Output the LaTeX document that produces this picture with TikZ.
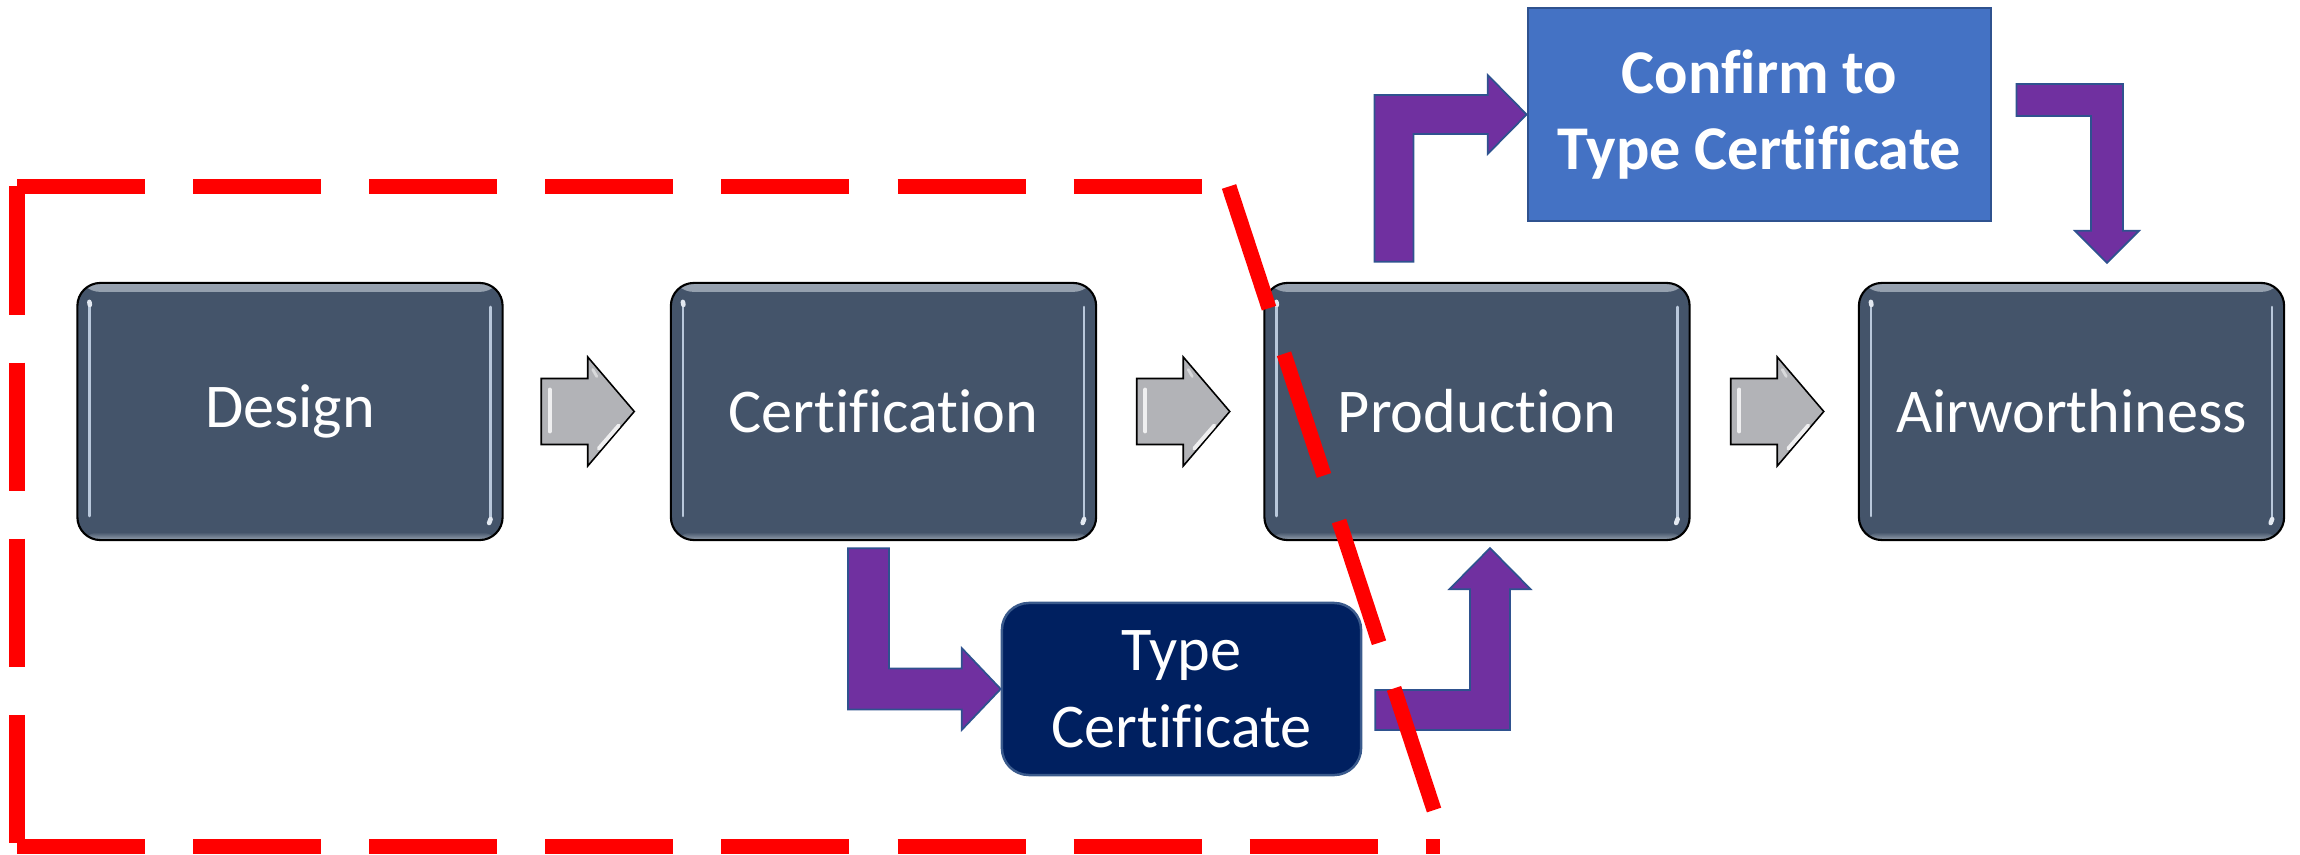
\documentclass[tikz,border=0pt]{standalone}
\usepackage{fontspec}
\setmainfont{Carlito}[Ligatures={NoCommon}]
\usetikzlibrary{calc}

\definecolor{slate}{HTML}{44546A}
\definecolor{slaterim}{HTML}{97A2B0}
\definecolor{gloss}{HTML}{B9C8DB}
\definecolor{navy}{HTML}{002060}
\definecolor{tcedge}{HTML}{3A5A8C}
\definecolor{skyblue}{HTML}{4472C4}
\definecolor{blueedge}{HTML}{2F528F}
\definecolor{arrowpurple}{HTML}{7030A0}
\definecolor{chevgray}{RGB}{178,179,183}
\definecolor{dashred}{HTML}{FF0000}

\newcommand{\labelfont}{\fontsize{17.7pt}{21.8pt}\selectfont}

\tikzset{
  stage/.style={
    rectangle, rounded corners=0.23cm, fill=slate, draw=black, line width=0.6pt,
    minimum width=4.25cm, minimum height=2.57cm, inner sep=0pt,
    text=white, font=\labelfont,
    path picture={
      % bevel rims at top and bottom
      \shade[top color=slaterim, bottom color=slate]
        (path picture bounding box.north west) rectangle
        ([yshift=-0.09cm]path picture bounding box.north east);
      \shade[bottom color=slaterim, top color=slate]
        ([yshift=0.08cm]path picture bounding box.south west) rectangle
        (path picture bounding box.south east);
      % glossy side highlights
      \draw[gloss, line width=0.7pt, line cap=round]
        ([xshift=0.12cm,yshift=-0.18cm]path picture bounding box.north west) --
        ([xshift=0.12cm,yshift=0.24cm]path picture bounding box.south west);
      \draw[gloss, line width=0.7pt, line cap=round]
        ([xshift=-0.12cm,yshift=-0.24cm]path picture bounding box.north east) --
        ([xshift=-0.12cm,yshift=0.2cm]path picture bounding box.south east);
      \draw[gloss!40!white, line width=1.3pt, line cap=round]
        ([xshift=0.12cm,yshift=-0.19cm]path picture bounding box.north west) --
        ([xshift=0.125cm,yshift=-0.22cm]path picture bounding box.north west);
      \draw[gloss!40!white, line width=1.3pt, line cap=round]
        ([xshift=-0.12cm,yshift=0.21cm]path picture bounding box.south east) --
        ([xshift=-0.135cm,yshift=0.17cm]path picture bounding box.south east);
    }
  },
  typecert/.style={
    rectangle, rounded corners=0.27cm, fill=navy, draw=tcedge, line width=0.7pt,
    minimum width=3.59cm, minimum height=1.72cm, inner sep=0pt,
    text=white, font=\labelfont, align=center
  },
  conform/.style={
    rectangle, fill=skyblue, draw=blueedge, line width=0.7pt,
    minimum width=4.63cm, minimum height=2.13cm, inner sep=0pt,
    text=white, font=\labelfont\bfseries, align=center
  },
  elbow/.style={fill=arrowpurple, draw=blueedge, line width=0.5pt, line join=miter},
  chevron/.style={fill=chevgray, draw=black, line width=0.45pt, line join=miter},
  redline/.style={draw=dashred, line width=0.15cm, dash pattern=on 1.28cm off 0.48cm}
}

% grey block arrow centred on #1
\newcommand{\grayblock}[1]{%
  \filldraw[chevron] ($(#1)+(-46.5,-33)$) -- ($(#1)+(0,-33)$) -- ($(#1)+(0,-54.5)$)
    -- ($(#1)+(46.5,0)$) -- ($(#1)+(0,54.5)$) -- ($(#1)+(0,33)$)
    -- ($(#1)+(-46.5,33)$) -- cycle;
  \draw[white, opacity=0.8, line width=1.1pt, line cap=round]
    ($(#1)+(-38,-22)$) -- ($(#1)+(-38,20)$);
  \draw[white, opacity=0.8, line width=1.1pt, line cap=round]
    ($(#1)+(11,37)$) -- ($(#1)+(31,14)$);
  \draw[white, opacity=0.5, line width=0.8pt, line cap=round]
    ($(#1)+(5,-42)$) -- ($(#1)+(9,-35)$);
}

% elbow arrow: vertical leg from #1, then horizontal to the tip #2
% #3 half shaft width, #4 half head width, #5 head length
\newcommand{\vharrow}[5]{%
  \path[elbow] let \p1=(#1), \p2=(#2),
      \n1={sign(\x2-\x1)}, \n2={sign(\y2-\y1)} in
    ({\x1-\n1*#3}, \y1) -- ({\x1+\n1*#3}, \y1)
    -- ({\x1+\n1*#3}, {\y2-\n2*#3}) -- ({\x2-\n1*#5}, {\y2-\n2*#3})
    -- ({\x2-\n1*#5}, {\y2-\n2*#4}) -- (\x2, \y2)
    -- ({\x2-\n1*#5}, {\y2+\n2*#4}) -- ({\x2-\n1*#5}, {\y2+\n2*#3})
    -- ({\x1-\n1*#3}, {\y2+\n2*#3}) -- cycle;
}

% elbow arrow: horizontal leg from #1, then vertical to the tip #2
\newcommand{\hvarrow}[5]{%
  \path[elbow] let \p1=(#1), \p2=(#2),
      \n1={sign(\x2-\x1)}, \n2={sign(\y2-\y1)} in
    (\x1, {\y1-\n2*#3}) -- ({\x2+\n1*#3}, {\y1-\n2*#3})
    -- ({\x2+\n1*#3}, {\y2-\n2*#5}) -- ({\x2+\n1*#4}, {\y2-\n2*#5})
    -- (\x2, \y2)
    -- ({\x2-\n1*#4}, {\y2-\n2*#5}) -- ({\x2-\n1*#3}, {\y2-\n2*#5})
    -- ({\x2-\n1*#3}, {\y1+\n2*#3}) -- (\x1, {\y1+\n2*#3}) -- cycle;
}

\begin{document}
\begin{tikzpicture}[x=0.01cm, y=-0.01cm]
\useasboundingbox (0,0) rectangle (2300,855);

% main process stages
\node[stage] (design) at (290,411.5)    {Design};
\node[stage] (cert)   at (883.5,411.5)  {Certification};
\node[stage] (prod)   at (1477,411.5)   {Production};
\node[stage] (air)    at (2071.5,411.5) {Airworthiness};

% side documents
\node[typecert] (tc)      at (1181.5,689) {Type\\Certificate};
\node[conform]  (confirm) at (1759.5,114.5) {Confirm to\\Type Certificate};

% grey block arrows between stages
\coordinate (g1) at ($(design.east)!0.5!(cert.west)+(1,0)$);
\coordinate (g2) at ($(cert.east)!0.5!(prod.west)+(3,0)$);
\coordinate (g3) at ($(prod.east)!0.5!(air.west)+(3,0)$);
\grayblock{g1}
\grayblock{g2}
\grayblock{g3}

% purple elbow arrows
\coordinate (p1s) at ($(cert.south)+(-15,7)$);
\vharrow{p1s}{tc.west}{0.205cm}{0.41cm}{0.39cm}

\coordinate (p2s) at ($(tc.east)+(13,21)$);
\coordinate (p2t) at ($(prod.south)+(13,7)$);
\hvarrow{p2s}{p2t}{0.2cm}{0.405cm}{0.41cm}

\coordinate (p3s) at ($(prod.north)+(-83,-20)$);
\vharrow{p3s}{confirm.west}{0.195cm}{0.395cm}{0.39cm}

\coordinate (p4s) at ($(confirm.east)+(24,-14.5)$);
\coordinate (p4t) at ($(air.north)+(35.5,-19)$);
\hvarrow{p4s}{p4t}{0.16cm}{0.32cm}{0.32cm}

% red dashed boundary
\coordinate (rtl) at (17,186.5);
\coordinate (rtr) at (1229,186.5);
\coordinate (rbl) at (17,846.5);
\coordinate (rbr) at (1440,846.5);
\coordinate (rdg) at (1446,846.5);
\draw[redline] (rtl) -- (rtr);
\draw[redline] (rtl) -- (rbl);
\draw[redline] (rbl) -- (rbr);
\draw[redline] (rtr) -- (rdg);
\end{tikzpicture}
\end{document}
